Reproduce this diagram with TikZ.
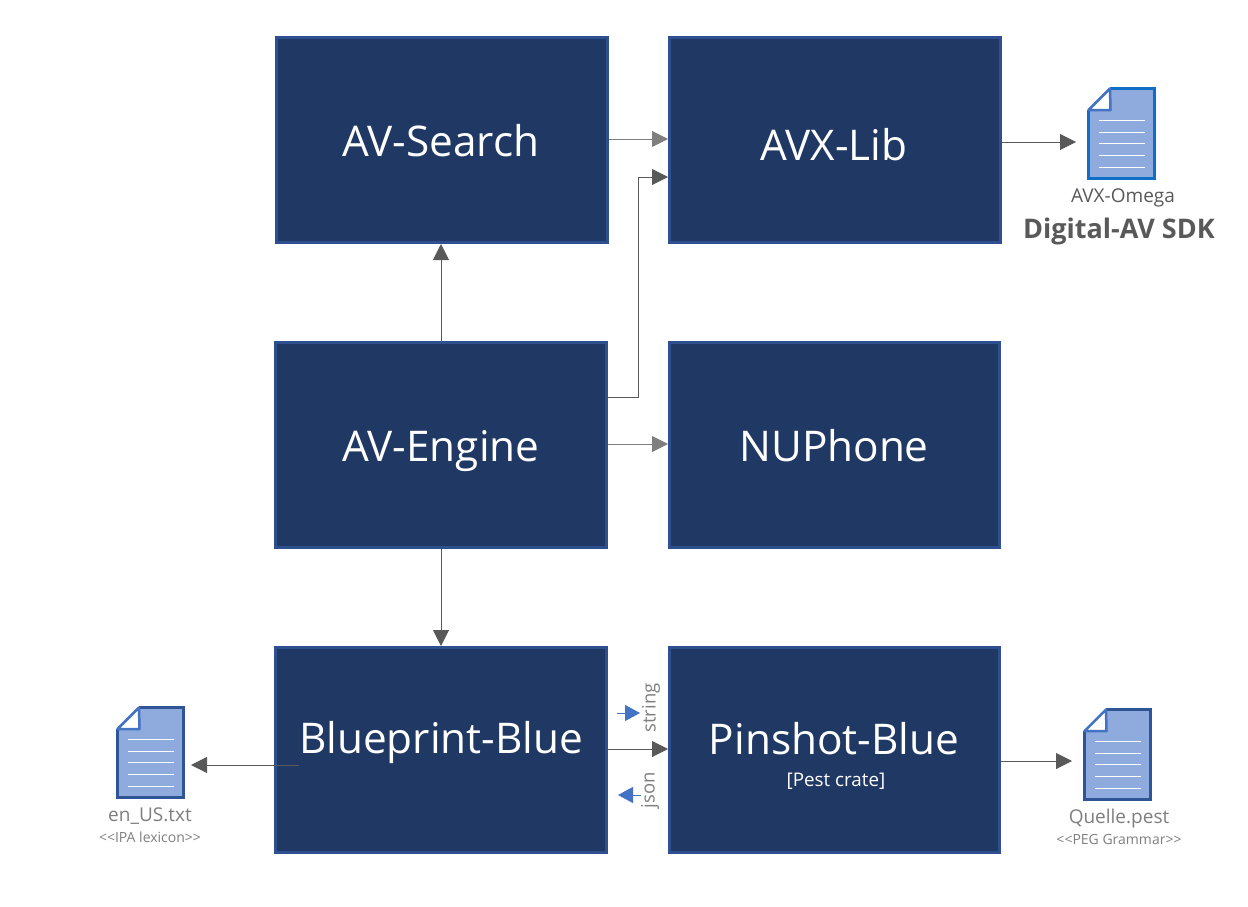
\documentclass[tikz,border=0pt]{standalone}
\usepackage{fontspec}
\setmainfont{Open Sans}
\usetikzlibrary{arrows.meta}
\definecolor{boxfill}{HTML}{203864}
\definecolor{boxline}{HTML}{2F5090}
\definecolor{docfill}{HTML}{8FAADC}
\definecolor{foldline}{HTML}{4472C4}
\definecolor{docblue}{HTML}{0F6FC6}
\definecolor{docnavy}{HTML}{2F5597}
\definecolor{darkgray}{HTML}{595959}
\definecolor{midgray}{HTML}{7F7F7F}
\tikzset{
  x=1pt,y=-1pt,
  comp/.style={draw=boxline,fill=boxfill,line width=3pt,inner sep=0pt,anchor=north west},
  title/.style={text=white,font=\fontsize{42.3}{46}\selectfont,inner sep=0pt,anchor=base},
  darkconn/.style={draw=darkgray,line width=1pt,-{Triangle[length=16pt,width=16pt]}},
  grayconn/.style={draw=midgray,line width=1pt,-{Triangle[length=16pt,width=16pt]}},
  blueconn/.style={draw=foldline,line width=1pt,-{Triangle[length=15pt,width=16pt]}},
  doclabel/.style={text=midgray,font=\fontsize{19}{22}\selectfont,inner sep=0pt,anchor=base},
  docsub/.style={text=midgray,font=\fontsize{14}{16}\selectfont,inner sep=0pt,anchor=base},
  sidelabel/.style={text=midgray,font=\fontsize{18.5}{22}\selectfont,inner sep=0pt,rotate=90},
}
\newcommand{\compbox}[5]{\node[comp,minimum width=#4pt,minimum height=205pt] (#1) at (#2,#3) {#5};}
% name, left, top, border colour
\newcommand{\docicon}[4]{%
  \node[minimum width=67pt,minimum height=90pt,inner sep=0pt,anchor=north west] (#1) at (#2+1.5,#3+1.5) {};
  \begin{scope}[shift={(#2,#3)}]
    \fill[docfill] (1.5,23) -- (23,1.5) -- (67.5,1.5) -- (67.5,91) -- (1.5,91) -- cycle;
    \fill[white] (1.5,23) -- (23,1.5) -- (23,23) -- cycle;
    \foreach \yy in {33,45,56,68,80}
      \draw[white,line width=0.8pt] (12,\yy) -- (58,\yy);
    \draw[#4,line width=3pt] (23,1.5) -- (67.5,1.5) -- (67.5,91) -- (1.5,91) -- (1.5,23);
    \draw[foldline,line width=2.5pt,line join=round] (1.5,23) -- (23,1.5) -- (23.5,23) -- cycle;
  \end{scope}}
\begin{document}
\begin{tikzpicture}
\useasboundingbox (0,0) rectangle (1248,907);
\fill[white] (0,0) rectangle (1248,907);
\compbox{search}{275}{36}{331}{}
\compbox{avx}{668}{36}{331}{}
\compbox{engine}{274}{341}{331}{}
\compbox{nuphone}{668}{341}{330}{}
\compbox{blueprint}{274}{646}{331}{}
\compbox{pinshot}{668}{646}{330}{}
\node[title] (t1) at (441,156) {AV-Search};
\node[title] (t2) at (834,160) {AVX-Lib};
\node[title] (t3) at (441,461) {AV-Engine};
\node[title] (t4) at (834,461) {NUPhone};
\node[title] (t5) at (441,753) {Blueprint-Blue};
\node[title] (t6) at (834,754) {Pinshot-Blue};
\node[text=white,font=\fontsize{18.8}{22}\selectfont,inner sep=0pt,anchor=base] (t7) at (836,786) {[Pest crate]};
\docicon{docavx}{1087}{87}{docblue}
\docicon{docus}{116}{706}{docnavy}
\docicon{docpest}{1083}{708}{docnavy}
\node[doclabel,text=darkgray] (l1) at (1123,202) {AVX-Omega};
\node[text=darkgray,font=\bfseries\fontsize{27}{30}\selectfont,inner sep=0pt,anchor=base] (l2) at (1119,238) {Digital-AV SDK};
\node[doclabel] (l3) at (150,821) {en\_US.txt};
\node[docsub] (l4) at (150,842) {<{}<IPA lexicon>{}>};
\node[doclabel] (l5) at (1119,823) {Quelle.pest};
\node[docsub] (l6) at (1119,844) {<{}<PEG Grammar>{}>};
\node[sidelabel] (s1) at (651,708) {string};
\node[sidelabel] (s2) at (650,790) {json};
\coordinate (a1) at (1076,142);
\coordinate (a2) at (191,765);
\coordinate (a2s) at (299,765);
\coordinate (a3) at (1072,761);
\coordinate (b1s) at (617,713);
\coordinate (b1e) at (640,713);
\coordinate (b2s) at (641,795);
\coordinate (b2e) at (618,795);
\coordinate (bend) at (638,397);
\draw[grayconn] (search.east |- 0,139) -- (avx.west |- 0,139);
\draw[darkconn] (engine.east |- bend) -- (bend) -- (bend |- 0,177) -- (avx.west |- 0,177);
\draw[grayconn] (engine.east |- 0,444) -- (nuphone.west |- 0,444);
\draw[darkconn] (441,342) -- (search.south -| 441,0);
\draw[darkconn] (engine.south) -- (blueprint.north);
\draw[darkconn] (blueprint.east |- 0,749) -- (pinshot.west |- 0,749);
\draw[darkconn] (a2s) -- (a2);
\draw[darkconn] (avx.east |- a1) -- (a1);
\draw[darkconn] (pinshot.east |- a3) -- (a3);
\draw[blueconn] (b1s) -- (b1e);
\draw[blueconn] (b2s) -- (b2e);
\end{tikzpicture}
\end{document}
